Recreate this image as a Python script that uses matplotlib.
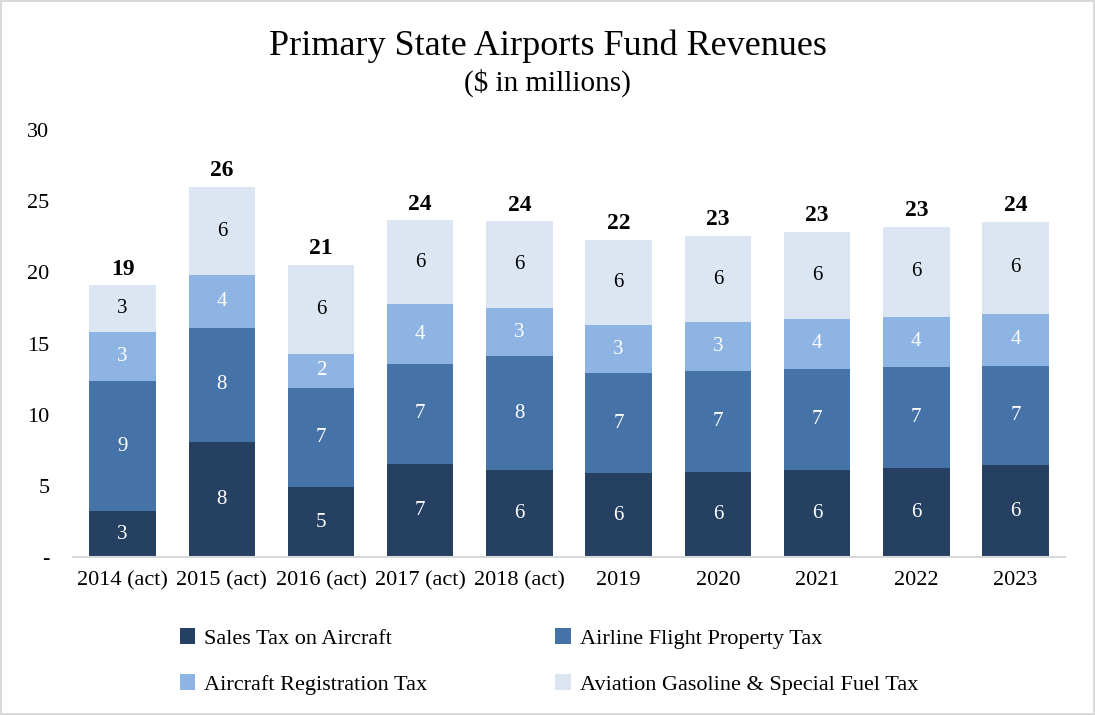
import matplotlib as mpl

mpl.use("Agg")
import matplotlib.pyplot as plt
import numpy as np

# data ($ in millions)
years = ["2014 (act)", "2015 (act)", "2016 (act)", "2017 (act)", "2018 (act)",
         "2019", "2020", "2021", "2022", "2023"]
sales_tax = [3.2, 8.1, 4.9, 6.55, 6.1, 5.9, 6.0, 6.1, 6.25, 6.45]
flight_prop_tax = [9.2, 8.0, 7.0, 7.0, 8.0, 7.0, 7.05, 7.1, 7.1, 7.0]
registration_tax = [3.4, 3.7, 2.4, 4.2, 3.4, 3.4, 3.45, 3.55, 3.55, 3.65]
fuel_tax = [3.3, 6.2, 6.25, 5.9, 6.1, 6.0, 6.05, 6.1, 6.3, 6.45]

series = [
    ("Sales Tax on Aircraft", sales_tax, "#264061", "white"),
    ("Airline Flight Property Tax", flight_prop_tax, "#4673a7", "white"),
    ("Aircraft Registration Tax", registration_tax, "#8eb4e3", "white"),
    ("Aviation Gasoline & Special Fuel Tax", fuel_tax, "#dce6f2", "black"),
]

plt.rcParams["font.family"] = ["Liberation Serif", "DejaVu Serif"]

fig = plt.figure(figsize=(10.95, 7.15), dpi=100)
fig.patch.set_edgecolor("#d9d9d9")
fig.patch.set_linewidth(1.5)
ax = fig.add_axes([0.0667, 0.221, 0.906, 0.597])

x = np.arange(len(years))
bottom = np.zeros(len(years))
handles = []
for name, vals, color, txt in series:
    vals = np.array(vals)
    h = ax.bar(x, vals, 0.67, bottom=bottom, color=color, label=name)
    handles.append(h)
    for xi, b, v in zip(x, bottom, vals):
        ax.text(xi, b + v / 2, f"{v:.0f}", ha="center", va="center",
                color=txt, fontsize=15)
    bottom += vals

for xi, tot in zip(x, bottom):
    ax.text(xi, tot + 0.4, f"{tot:.0f}", ha="center", va="bottom",
            fontsize=17, fontweight="bold")

ax.set_xlim(-0.5, len(years) - 0.5)
ax.set_ylim(0, 30)
ax.set_yticks(range(0, 31, 5))
ax.set_yticklabels(["-"] + [str(v) for v in range(5, 31, 5)])
ax.set_xticks(x)
ax.set_xticklabels(years)
ax.tick_params(axis="both", length=0, labelsize=16)
ax.tick_params(axis="y", pad=17)
ax.tick_params(axis="x", pad=10)
for s in ["top", "right", "left"]:
    ax.spines[s].set_visible(False)
ax.spines["bottom"].set_color("#d9d9d9")
ax.spines["bottom"].set_linewidth(1.5)

fig.text(0.5, 0.935, "Primary State Airports Fund Revenues", ha="center",
         va="center", fontsize=26)
fig.text(0.5, 0.884, "($ in millions)", ha="center", va="center", fontsize=21)

# legend fills column-wise, so order handles to read row-wise like the original
order = [0, 2, 1, 3]
fig.legend(handles=[handles[i] for i in order],
           labels=[series[i][0] for i in order],
           loc="lower left", bbox_to_anchor=(0.146, 0.0),
           ncol=2, frameon=False, fontsize=16, handlelength=0.7,
           handleheight=0.7, handletextpad=0.4, columnspacing=5.75,
           labelspacing=1.15)

fig.savefig("out.png", dpi=100)
